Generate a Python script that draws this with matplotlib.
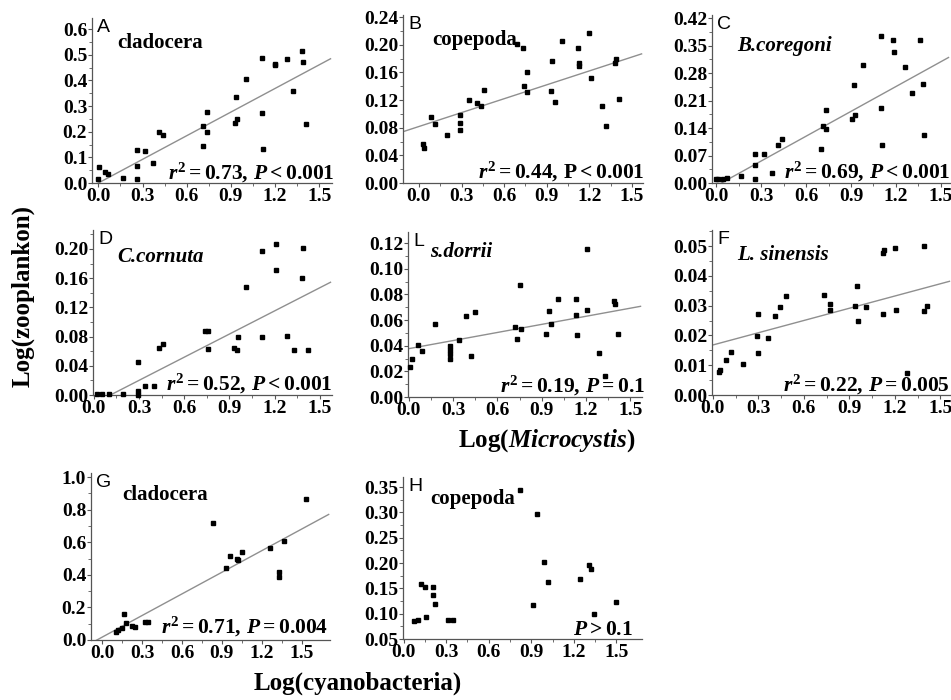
import numpy as np
import matplotlib
matplotlib.use("Agg")
import matplotlib.pyplot as plt
from matplotlib.ticker import FixedLocator

plt.rcParams['font.family'] = ['Liberation Serif', 'DejaVu Serif']
plt.rcParams['mathtext.fontset'] = 'custom'
plt.rcParams['mathtext.rm'] = 'Liberation Serif:bold'
plt.rcParams['mathtext.it'] = 'Liberation Serif:bold:italic'
plt.rcParams['mathtext.bf'] = 'Liberation Serif:bold'

# ---------------- data ----------------
A_x = [0.0, 0.005, 0.045, 0.068, 0.165, 0.26, 0.26, 0.26, 0.32, 0.37, 0.41, 0.44, 0.71, 0.71, 0.735, 0.74,
       0.93, 0.94, 0.935, 1.0, 1.11, 1.11, 1.12, 1.20, 1.20, 1.28, 1.32, 1.38, 1.39, 1.41]
A_y = [0.014, 0.063, 0.043, 0.037, 0.021, 0.130, 0.067, 0.017, 0.125, 0.076, 0.200, 0.189, 0.145, 0.223, 0.275, 0.197,
       0.232, 0.249, 0.337, 0.406, 0.489, 0.271, 0.134, 0.463, 0.458, 0.483, 0.360, 0.515, 0.471, 0.228]

B_x = [0.026, 0.035, 0.082, 0.11, 0.195, 0.29, 0.29, 0.29, 0.35, 0.41, 0.44, 0.46, 0.69, 0.73, 0.74, 0.76, 0.76,
       0.93, 0.94, 0.96, 1.01, 1.12, 1.13, 1.13, 1.20, 1.21, 1.29, 1.32, 1.39, 1.38, 1.41]
B_y = [0.057, 0.051, 0.096, 0.086, 0.070, 0.098, 0.087, 0.076, 0.120, 0.116, 0.111, 0.134, 0.201, 0.195, 0.141, 0.160, 0.132,
       0.133, 0.176, 0.117, 0.206, 0.195, 0.173, 0.169, 0.217, 0.152, 0.111, 0.082, 0.180, 0.173, 0.121]

C_x = [0.0, 0.01, 0.045, 0.07, 0.167, 0.26, 0.26, 0.26, 0.32, 0.37, 0.41, 0.44, 0.70, 0.71, 0.73, 0.73,
       0.91, 0.92, 0.93, 0.98, 1.10, 1.10, 1.11, 1.18, 1.19, 1.26, 1.31, 1.36, 1.38, 1.39]
C_y = [0.009, 0.011, 0.011, 0.013, 0.019, 0.047, 0.075, 0.009, 0.075, 0.025, 0.098, 0.113, 0.086, 0.146, 0.138, 0.187,
       0.163, 0.250, 0.174, 0.301, 0.375, 0.190, 0.098, 0.364, 0.333, 0.295, 0.229, 0.364, 0.252, 0.123]

D_x = [0.02, 0.055, 0.10, 0.195, 0.29, 0.29, 0.29, 0.34, 0.40, 0.43, 0.46, 0.74, 0.76, 0.76, 0.93, 0.95, 0.96,
       1.01, 1.12, 1.12, 1.21, 1.21, 1.28, 1.33, 1.39, 1.38, 1.42]
D_y = [0.001, 0.001, 0.001, 0.001, 0.006, 0.045, 0.0, 0.013, 0.012, 0.065, 0.070, 0.088, 0.088, 0.063, 0.064, 0.062, 0.079,
       0.148, 0.197, 0.080, 0.207, 0.171, 0.081, 0.062, 0.202, 0.160, 0.062]

L_x = [0.007, 0.018, 0.06, 0.09, 0.18, 0.276, 0.276, 0.276, 0.276, 0.34, 0.39, 0.42, 0.45, 0.72, 0.735, 0.76, 0.75,
       0.93, 0.95, 0.96, 1.01, 1.13, 1.13, 1.14, 1.21, 1.21, 1.29, 1.33, 1.39, 1.40, 1.42]
L_y = [0.0234, 0.0294, 0.0408, 0.0358, 0.0571, 0.0397, 0.0364, 0.0338, 0.0299, 0.0442, 0.0631, 0.0317, 0.0662, 0.0545,
       0.0455, 0.0527, 0.0875, 0.0494, 0.0670, 0.0571, 0.0761, 0.0766, 0.0642, 0.0486, 0.1150, 0.0675, 0.0345, 0.0164,
       0.0748, 0.0722, 0.0488]

F_x = [0.037, 0.048, 0.088, 0.116, 0.20, 0.30, 0.29, 0.30, 0.36, 0.41, 0.44, 0.48, 0.73, 0.77, 0.77, 0.94, 0.95, 0.96,
       1.01, 1.12, 1.13, 1.12, 1.20, 1.21, 1.28, 1.39, 1.39, 1.41]
F_y = [0.0078, 0.0084, 0.0117, 0.0145, 0.0104, 0.0273, 0.0198, 0.0142, 0.0193, 0.0265, 0.0296, 0.0333, 0.0335, 0.0305,
       0.0285, 0.0298, 0.0365, 0.0248, 0.0294, 0.0477, 0.0486, 0.0271, 0.0494, 0.0287, 0.0075, 0.0499, 0.0282, 0.0298]

G_x = [0.10, 0.12, 0.145, 0.165, 0.18, 0.22, 0.245, 0.32, 0.345, 0.83, 0.93, 0.96, 1.01, 1.02, 1.05, 1.26, 1.33, 1.33,
       1.37, 1.53]
G_y = [0.051, 0.061, 0.076, 0.157, 0.102, 0.086, 0.078, 0.112, 0.112, 0.718, 0.439, 0.514, 0.496, 0.490, 0.541, 0.567,
       0.418, 0.388, 0.608, 0.867]

H_x = [0.075, 0.10, 0.12, 0.15, 0.16, 0.21, 0.21, 0.22, 0.31, 0.35, 0.82, 0.94, 0.91, 0.99, 1.02, 1.24, 1.31, 1.32,
       1.34, 1.50]
H_y = [0.085, 0.088, 0.159, 0.153, 0.093, 0.153, 0.136, 0.120, 0.087, 0.087, 0.345, 0.297, 0.117, 0.202, 0.162, 0.168,
       0.196, 0.188, 0.100, 0.123]

# regression lines (slope, intercept); None = no line
fits = {'A': (0.307, 0.0), 'B': (0.067, 0.0817), 'C': (0.2106, -0.0071), 'D': (0.1056, -0.0116),
        'L': (0.021, 0.0377), 'F': (0.0137, 0.0168), 'G': (0.442, 0.018), 'H': None}

letters = ['A', 'B', 'C', 'D', 'L', 'F', 'G', 'H']
taxa = ['cladocera', 'copepoda', 'B.coregoni', 'C.cornuta', 's.dorrii', 'L. sinensis', 'cladocera', 'copepoda']
taxa_italic = [False, False, True, True, True, True, False, False]
stats = [r'$\mathit{r}^{2}=0.73,\,\mathit{P}<0.001$',
         r'$\mathit{r}^{2}=0.44,\,\mathrm{P}<0.001$',
         r'$\mathit{r}^{2}=0.69,\,\mathit{P}<0.001$',
         r'$\mathit{r}^{2}=0.52,\,\mathit{P}<0.001$',
         r'$\mathit{r}^{2}=0.19,\,\mathit{P}=0.1$',
         r'$\mathit{r}^{2}=0.22,\,\mathit{P}=0.005$',
         r'$\mathit{r}^{2}=0.71,\,\mathit{P}=0.004$',
         r'$\mathit{P}>0.1$']
yticks = [np.arange(0, 0.61, 0.1), np.arange(0, 0.241, 0.04), np.arange(0, 0.421, 0.07),
          np.arange(0, 0.201, 0.04), np.arange(0, 0.121, 0.02), np.arange(0, 0.051, 0.01),
          np.arange(0, 1.01, 0.2), np.arange(0.05, 0.351, 0.05)]
ytick_fmt = ['%.1f', '%.2f', '%.2f', '%.2f', '%.2f', '%.2f', '%.1f', '%.2f']
xticks = [0.0, 0.3, 0.6, 0.9, 1.2, 1.5]

series = {'A': (A_x, A_y), 'B': (B_x, B_y), 'C': (C_x, C_y), 'D': (D_x, D_y),
          'L': (L_x, L_y), 'F': (F_x, F_y), 'G': (G_x, G_y), 'H': (H_x, H_y)}

# ---------------- layout ----------------
W, H = 951, 700
fig = plt.figure(figsize=(W / 100, H / 100), dpi=100)

# pixel boxes (x0, y0_top, x1, y1_bottom)
boxes = [(92, 18, 332, 183), (403, 15, 643, 183), (712, 15, 950, 183),
         (93, 230, 332, 395), (408, 232, 642, 397), (712, 230, 951, 395),
         (91, 473, 330, 640), (403, 477, 642, 639)]
xlims = [(-0.043, 1.587), (-0.112, 1.578), (-0.029, 1.562),
         (-0.006, 1.582), (-0.006, 1.58), (-0.006, 1.57),
         (-0.085, 1.713), (-0.004, 1.68)]
ylims = [(0, 0.643), (0, 0.243), (0, 0.428),
         (0, 0.226), (0, 0.1286), (0, 0.0554),
         (0, 1.025), (0.05, 0.37)]
taxa_pos = [(117, 43), (432, 40), (737, 46), (117, 257), (430, 252), (737, 255), (122, 495), (430, 499)]
stat_pos = [(335, 179), (645, 178), (951, 178), (333, 390), (645, 392), (950, 391), (328, 633), (633, 635)]

def fx(px):
    return px / W

def fy(py):
    return 1 - py / H

TICKFONT = dict(family='Liberation Serif', weight='bold', size=14)

for i, key in enumerate(letters):
    x0, y0, x1, y1 = boxes[i]
    ax = fig.add_axes([fx(x0), fy(y1), (x1 - x0) / W, (y1 - y0) / H])
    ax.set_facecolor('none')
    xs, ys = series[key]
    ax.plot(xs, ys, linestyle='none', marker='s', ms=3.3, color='black', clip_on=False, zorder=3)
    if fits[key] is not None:
        s, b = fits[key]
        lx = np.array([xlims[i][0], xlims[i][1] - 0.01])
        ax.plot(lx, s * lx + b, color='#8f8f8f', lw=1.0, zorder=2)
    ax.set_xlim(*xlims[i])
    ax.set_ylim(*ylims[i])
    for sp in ['top', 'right']:
        ax.spines[sp].set_visible(False)
    for sp in ['left', 'bottom']:
        ax.spines[sp].set_color('#555555')
        ax.spines[sp].set_linewidth(0.9)
    ax.set_xticks(xticks)
    ax.set_xticklabels(['%.1f' % v for v in xticks], fontdict=TICKFONT)
    ax.xaxis.set_minor_locator(FixedLocator(np.arange(0.15, 1.6, 0.3)))
    yt = yticks[i]
    ax.set_yticks(yt)
    ax.set_yticklabels([ytick_fmt[i] % v for v in yt], fontdict=TICKFONT)
    ystep = yt[1] - yt[0]
    ax.yaxis.set_minor_locator(FixedLocator(np.arange(yt[0] + ystep / 2, ylims[i][1], ystep)))
    ax.tick_params(axis='both', which='major', length=3, width=0.8, color='#555555', pad=0.5, direction='out')
    ax.tick_params(axis='both', which='minor', length=2, width=0.6, color='#555555', direction='out')

    # panel letter
    fig.text(fx(x0 + 5), fy(y0 + 1), key, family='Liberation Sans', fontsize=14, va='top', ha='left')
    # taxon label
    tx, ty = taxa_pos[i]
    fig.text(fx(tx), fy(ty), taxa[i], family='Liberation Serif', weight='bold',
             style='italic' if taxa_italic[i] else 'normal', fontsize=15, va='center', ha='left')
    # statistics
    sx, sy = stat_pos[i]
    fig.text(fx(sx), fy(sy), stats[i], fontsize=15.5, ha='right', va='baseline')

fig.text(fx(23), fy(296), 'Log(zooplankon)', family='Liberation Serif', weight='bold', fontsize=18,
         rotation=90, ha='center', va='center')
fig.text(fx(547), fy(441), r'Log($\mathit{Microcystis}$)', family='Liberation Serif', weight='bold',
         fontsize=18, ha='center', va='center')
fig.text(fx(358), fy(683), 'Log(cyanobacteria)', family='Liberation Serif', weight='bold', fontsize=18,
         ha='center', va='center')

fig.savefig('out.png', dpi=100)
